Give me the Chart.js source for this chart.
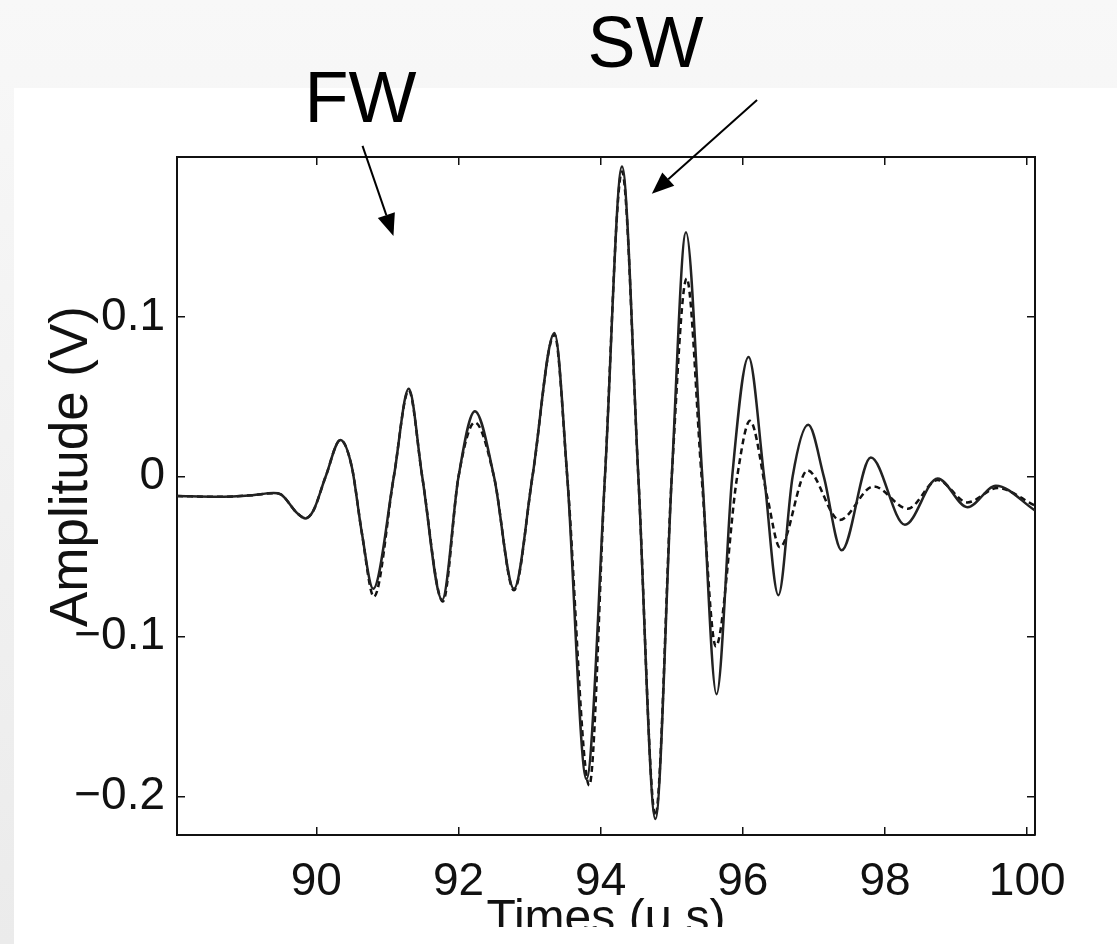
<!DOCTYPE html>
<html>
<head>
<meta charset="utf-8">
<script src="https://cdn.jsdelivr.net/npm/chart.js@4.4.1/dist/chart.umd.min.js"></script>
<style>
  html, body { margin: 0; padding: 0; }
  body {
    width: 1117px; height: 944px; position: relative; overflow: hidden;
    background: linear-gradient(to bottom, #f8f8f8 0%, #ebebeb 100%);
  }
  #panel { position: absolute; left: 14px; top: 88px; right: 0; bottom: 0; background: #fff; }
  #chart { position: absolute; left: 0; top: 0; }
</style>
</head>
<body>
<div id="panel"></div>
<canvas id="chart" width="1117" height="927"></canvas>
<script>
// Received waveform, solid trace (time in µs, amplitude in V)
const solidTimes = [88.04, 88.6, 89.1, 89.4, 89.5, 89.73, 89.85, 89.96, 90.13, 90.34, 90.5, 90.64, 90.8,
  91.09, 91.3, 91.49, 91.77, 92.0, 92.23, 92.5, 92.78, 93.04, 93.35, 93.53, 93.8, 94.06, 94.3, 94.53,
  94.77, 95.0, 95.2, 95.43, 95.63, 95.85, 96.08, 96.3, 96.5, 96.7, 96.92, 97.14, 97.39, 97.8, 98.28,
  98.74, 99.16, 99.56, 100.11];
const solidAmp = [-0.012, -0.0125, -0.0115, -0.0102, -0.011, -0.0227, -0.026, -0.021, 0.0, 0.023, 0.006, -0.035, -0.070,
  0.0, 0.055, 0.0, -0.077, 0.0, 0.041, 0.0, -0.070, 0.0, 0.090, 0.0, -0.189, 0.0, 0.194, 0.0,
  -0.214, 0.0, 0.153, 0.0, -0.136, 0.0, 0.075, 0.0, -0.074, 0.0, 0.0325, 0.0, -0.046, 0.012, -0.030,
  -0.001, -0.019, -0.0056, -0.021];

// Dashed trace
const dashedTimes = [88.04, 88.6, 89.1, 89.4, 89.5, 89.73, 89.85, 89.96, 90.13, 90.34, 90.5, 90.64, 90.81,
  91.09, 91.3, 91.49, 91.78, 92.0, 92.23, 92.5, 92.78, 93.04, 93.35, 93.53, 93.84, 94.06, 94.3, 94.53,
  94.77, 95.0, 95.21, 95.42, 95.62, 95.92, 96.1, 96.35, 96.52, 96.91, 97.36, 97.84, 98.32,
  98.74, 99.16, 99.58, 100.11];
const dashedAmp = [-0.012, -0.0125, -0.0115, -0.0102, -0.011, -0.0227, -0.026, -0.021, 0.0, 0.023, 0.006, -0.035, -0.075,
  0.0, 0.054, 0.0, -0.078, 0.0, 0.034, 0.0, -0.071, 0.0, 0.089, 0.0, -0.193, 0.0, 0.191, 0.0,
  -0.212, 0.0, 0.124, 0.0, -0.106, 0.0, 0.035, -0.014, -0.044, 0.004, -0.027, -0.006, -0.020,
  -0.002, -0.016, -0.007, -0.018];

// Axis ticks
const xTickValues = [90, 92, 94, 96, 98, 100];
const yTickValues = [-0.2, -0.1, 0, 0.1];
const yTickLabels = ['\u22120.2', '\u22120.1', '0', '0.1'];

// Annotations (data coordinates)
const notes = [
  { text: 'FW', at: [90.62, 0.2345], from: [90.65, 0.207], to: [91.085, 0.1506] },
  { text: 'SW', at: [94.63, 0.269], from: [96.2, 0.2356], to: [94.72, 0.177] }
];

Chart.defaults.font.family = '"Liberation Sans", Arial, sans-serif';
Chart.defaults.color = '#111';

const toPoints = (xs, ys) => xs.map((x, i) => ({ x: x, y: ys[i] }));

const setTicks = values => scale => { scale.ticks = values.map(v => ({ value: v })); };

// ticks drawn inward, on every side of the box
const boxGrid = { drawOnChartArea: false, color: '#111', lineWidth: 1.5, tickLength: -8 };
const boxBorder = { color: '#111', width: 2 };

const annotate = {
  id: 'annotate',
  afterDraw(chart) {
    const ctx = chart.ctx;
    const sx = chart.scales.x, sy = chart.scales.y;
    const px = p => [sx.getPixelForValue(p[0]), sy.getPixelForValue(p[1])];
    ctx.save();
    ctx.fillStyle = '#000';
    ctx.strokeStyle = '#000';
    ctx.lineWidth = 2;
    ctx.font = '72px "Liberation Sans", Arial, sans-serif';
    ctx.textAlign = 'center';
    ctx.textBaseline = 'middle';
    notes.forEach(n => {
      const [tx, ty] = px(n.at);
      ctx.fillText(n.text, tx, ty);
      const [x0, y0] = px(n.from);
      const [x1, y1] = px(n.to);
      const a = Math.atan2(y1 - y0, x1 - x0);
      const len = 22, half = 9;
      const bx = x1 - len * Math.cos(a), by = y1 - len * Math.sin(a);
      ctx.beginPath();
      ctx.moveTo(x0, y0);
      ctx.lineTo(bx, by);
      ctx.stroke();
      ctx.beginPath();
      ctx.moveTo(x1, y1);
      ctx.lineTo(bx + half * Math.sin(a), by - half * Math.cos(a));
      ctx.lineTo(bx - half * Math.sin(a), by + half * Math.cos(a));
      ctx.closePath();
      ctx.fill();
    });
    ctx.restore();
  }
};

new Chart(document.getElementById('chart'), {
  type: 'line',
  data: {
    datasets: [
      {
        data: toPoints(solidTimes, solidAmp),
        borderColor: '#222',
        borderWidth: 2.5,
        pointRadius: 0,
        cubicInterpolationMode: 'monotone'
      },
      {
        data: toPoints(dashedTimes, dashedAmp),
        borderColor: '#111',
        borderWidth: 2.5,
        borderDash: [6, 4],
        pointRadius: 0,
        cubicInterpolationMode: 'monotone'
      }
    ]
  },
  options: {
    responsive: false,
    animation: false,
    devicePixelRatio: 1,
    layout: { padding: { left: 41, right: 82, top: 157, bottom: 0 } },
    plugins: { legend: { display: false }, tooltip: { enabled: false } },
    scales: {
      x: {
        type: 'linear', position: 'bottom', min: 88.04, max: 100.11,
        afterBuildTicks: setTicks(xTickValues),
        afterFit(scale) { scale.height = 92; },
        grid: boxGrid, border: boxBorder,
        ticks: { font: { size: 46 }, padding: 28, maxRotation: 0, autoSkip: false, callback: v => String(v) },
        title: { display: true, text: 'Times (\u03bc s)', font: { size: 48 }, padding: { top: 0, bottom: -22 } }
      },
      x2: {
        type: 'linear', position: 'top', min: 88.04, max: 100.11,
        afterBuildTicks: setTicks(xTickValues),
        afterFit(scale) { scale.height = 0; },
        grid: boxGrid, border: boxBorder,
        ticks: { display: false }
      },
      y: {
        type: 'linear', position: 'left', min: -0.224, max: 0.2,
        afterBuildTicks: setTicks(yTickValues),
        afterFit(scale) { scale.width = 136; },
        grid: boxGrid, border: boxBorder,
        ticks: { font: { size: 46 }, padding: 20, autoSkip: false, callback: (v, i) => yTickLabels[i] },
        // leading spaces lift the rotated label above the box centre, as in the original
        title: { display: true, text: '    Amplitude (V)', font: { size: 53 }, padding: 0 }
      },
      y2: {
        type: 'linear', position: 'right', min: -0.224, max: 0.2,
        afterBuildTicks: setTicks(yTickValues),
        afterFit(scale) { scale.width = 0; },
        grid: boxGrid, border: boxBorder,
        ticks: { display: false }
      }
    }
  },
  plugins: [annotate]
});
</script>
</body>
</html>
